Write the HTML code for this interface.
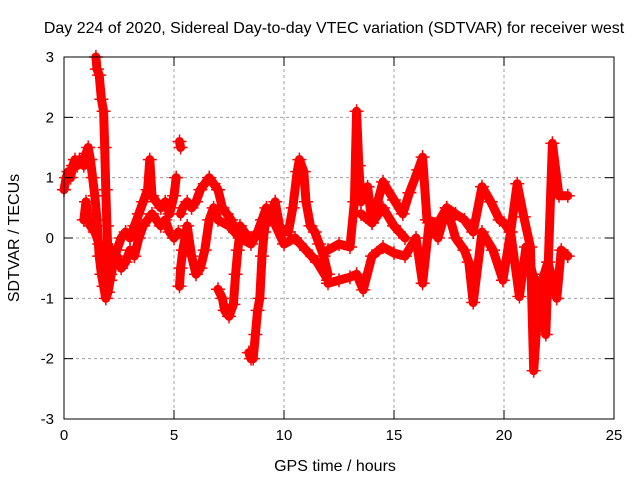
<!DOCTYPE html>
<html><head><meta charset="utf-8">
<style>
body{margin:0;background:#fff;}
svg{display:block;font-family:"Liberation Sans",sans-serif;}
</style></head>
<body>
<svg id="chart" width="640" height="480" viewBox="0 0 640 480">
<rect width="640" height="480" fill="#fff"/>
<text x="334" y="33" font-size="16" text-anchor="middle">Day 224 of 2020, Sidereal Day-to-day VTEC variation (SDTVAR) for receiver west</text>
<g id="grid"></g>
<g id="series"></g>
<g id="axes"></g>
<text x="335" y="471" font-size="16" text-anchor="middle">GPS time / hours</text>
<text x="19" y="238" font-size="16" text-anchor="middle" transform="rotate(-90 19 238)">SDTVAR / TECUs</text>
</svg>
<script>
const xTicks = [0,5,10,15,20,25];
const yTicks = [-3,-2,-1,0,1,2,3];
const s1T = [0,0.1,0.2,0.3,0.4,0.5,0.6,0.7,0.8,0.9,1.0,1.1,1.2,1.3,1.4,1.5,1.6,1.7,1.8,1.9,2.0,2.1,2.2,2.4,2.6,2.8,3.0,3.2,3.4,3.6,3.8,3.9,4.0,4.2,4.4,4.6,4.8,5.0,5.1];
const s1V = [0.8,1.0,1.1,1.0,1.2,1.3,1.2,1.3,1.3,1.2,1.4,1.5,1.3,1.0,0.7,0.3,-0.3,-0.6,-0.8,-1.0,-0.9,-0.7,-0.5,-0.2,0.0,0.1,0.0,0.2,0.4,0.6,0.8,1.3,0.7,0.6,0.5,0.6,0.4,0.7,1.0];
const s2T = [1.45,1.5,1.6,1.7,1.8,1.85,1.9,1.95,2.0,2.1];
const s2V = [3.0,2.8,2.7,2.3,2.1,1.5,0.8,0.2,-0.3,-0.6];
const s3T = [0.9,1.0,1.1,1.2,1.4,1.6,1.8,2.0,2.2,2.4,2.6,2.8,3.0,3.2,3.4,3.6,3.8,4.0,4.2,4.4,4.6,4.8,5.0,5.2];
const s3V = [0.3,0.6,0.3,0.2,0.1,-0.1,-0.3,-0.4,-0.2,-0.3,-0.5,-0.4,-0.2,-0.3,0.0,0.2,0.3,0.4,0.3,0.2,0.3,0.1,0.0,0.1];
const s4T = [5.3,5.4,5.6,5.8,6.0,6.2,6.4,6.6,6.8,7.0,7.2,7.4,7.6,7.8,8.0,8.2,8.4,8.6,8.8,9.0,9.2,9.4,9.6,9.8,10.0,10.2,10.4,10.6,10.7,10.9,11.0,11.2,11.4,11.6,11.8,12.0];
const s4V = [0.4,0.5,0.6,0.5,0.6,0.8,0.9,1.0,0.9,0.8,0.5,0.4,0.3,0.1,0.2,0.1,0.0,0.0,0.1,0.3,0.5,0.4,0.6,0.2,0.1,0.1,0.5,1.1,1.3,1.1,0.6,0.2,0.1,-0.1,-0.3,-0.6];
const s5T = [5.25,5.3,5.4,5.5,5.6,5.8,6.0,6.2,6.4,6.6,6.8,7.0,7.5,8.0,8.5,9.0,9.5,10.0,10.5,11.0,11.5,12.0];
const s5V = [-0.8,-0.5,-0.2,0.0,0.2,-0.3,-0.6,-0.5,-0.2,0.3,0.5,0.3,0.2,0.0,-0.1,0.2,0.3,-0.1,0.0,-0.2,-0.4,-0.7];
const s6T = [5.25,5.3];
const s6V = [1.6,1.5];
const s7T = [7.0,7.2,7.3,7.5,7.7,7.8,7.9,8.0];
const s7V = [-0.85,-1.0,-1.2,-1.3,-1.1,-0.6,-0.2,0.1];
const s8T = [8.4,8.5,8.6,8.7,8.8,8.9,9.0,9.1,9.2];
const s8V = [-1.9,-2.0,-2.0,-1.6,-1.2,-1.0,-0.3,0.1,0.4];
const s9T = [12.0,12.5,13.0,13.3,13.6,14.0,14.5,15.0,15.5,16.0,16.3,16.6,17.0,17.4,17.8,18.2,18.4,18.6,19.0,19.5,19.95,20.3,20.7,21.0,21.3,21.6,22.0,22.4,22.6,22.9];
const s9V = [-0.75,-0.7,-0.65,-0.6,-0.86,-0.3,-0.15,-0.25,-0.3,0.0,-0.75,0.25,0.0,0.5,0.0,-0.2,-0.4,-1.07,0.1,-0.2,-0.7,0.1,-0.97,-0.15,-0.6,-0.86,-0.4,-1.0,-0.2,-0.3];
const s10T = [12.0,12.5,13.0,13.2,13.3,13.4,13.5,13.8,14.0,14.5,15.0,15.4,15.7,16.1,16.3,16.5,17.0,17.4,17.8,18.2,18.6,19.0,19.4,19.8,20.0,20.3,20.6,20.9,21.2,21.35,21.6,21.9,22.2,22.5,22.9];
const s10V = [-0.2,-0.1,-0.15,0.6,2.1,1.2,0.6,0.85,0.25,0.93,0.63,0.4,0.75,1.13,1.34,0.3,0.25,0.5,0.4,0.3,0.1,0.85,0.6,0.3,0.25,0.1,0.9,0.35,-0.15,-2.2,-0.86,-1.6,1.57,0.7,0.7];
const s11T = [13.5,14.0,14.5,15.0,15.5];
const s11V = [0.4,0.25,0.5,0.2,0.0];

const NS='http://www.w3.org/2000/svg';
const L=64,R=614,T=57,B=419;
function xs(t){return L+(t-0)/(25-0)*(R-L);}
function ys(v){return B-(v+3)/6*(B-T);}
function mk(tag,attrs,parent){const e=document.createElementNS(NS,tag);for(const k in attrs)e.setAttribute(k,attrs[k]);parent.appendChild(e);return e;}
const grid=document.getElementById('grid'),axes=document.getElementById('axes'),ser=document.getElementById('series');
xTicks.forEach(t=>{
  const x=xs(t);
  if(t>0&&t<25){const g=mk('line',{x1:x,y1:T,x2:x,y2:B,stroke:'#a0a0a0','stroke-dasharray':'3,3','stroke-width':1},grid);
  
  }
  mk('line',{x1:x,y1:B,x2:x,y2:B-9,stroke:'#000'},axes);
  mk('line',{x1:x,y1:T,x2:x,y2:T+9,stroke:'#000'},axes);
  const lb=mk('text',{x:x,y:B+21,'font-size':15,'text-anchor':'middle'},axes);
  lb.textContent=t;
  
  
});
yTicks.forEach(v=>{
  const y=ys(v);
  if(v>-3&&v<3){const g=mk('line',{x1:L,y1:y,x2:R,y2:y,stroke:'#a0a0a0','stroke-dasharray':'3,3','stroke-width':1},grid);
  
  }
  mk('line',{x1:L,y1:y,x2:L+9,y2:y,stroke:'#000'},axes);
  mk('line',{x1:R,y1:y,x2:R-9,y2:y,stroke:'#000'},axes);
  const lb=mk('text',{x:L-10,y:y+5,'font-size':15,'text-anchor':'end'},axes);
  lb.textContent=v;
  
  
});
const border=mk('rect',{x:L,y:T,width:R-L,height:B-T,fill:'none',stroke:'#000','stroke-width':1},axes);


const segs=[[s1T,s1V],[s2T,s2V],[s3T,s3V],[s4T,s4V],[s5T,s5V],[s6T,s6V],[s7T,s7V],[s8T,s8V],[s9T,s9V],[s10T,s10V],[s11T,s11V]];
segs.forEach((s,i)=>{
  const pts=s[0].map((t,j)=>xs(t).toFixed(1)+','+ys(s[1][j]).toFixed(1)).join(' ');
  const pl=mk('polyline',{points:pts,fill:'none',stroke:'#ff0000','stroke-width':9,'stroke-linejoin':'round','stroke-linecap':'round'},ser);
  
  
  s[0].forEach((t,j)=>{
    const x=xs(t),y=ys(s[1][j]);
    const p=mk('path',{d:`M${x-7} ${y}H${x+7}M${x} ${y-7}V${y+7}`,stroke:'#ff0000','stroke-width':1.5},ser);
    
    
  });
});
</script>
</body></html>
